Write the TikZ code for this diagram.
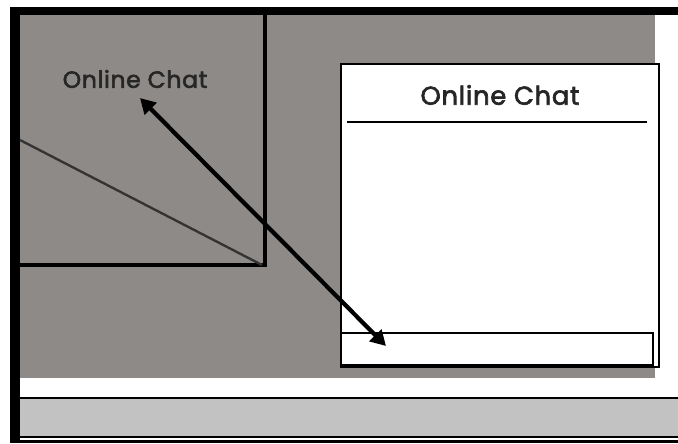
\documentclass[tikz,border=0pt]{standalone}
\usepackage{fontspec}
\setmainfont{Poppins}
\newfontfamily\chatfont{Poppins}[FakeBold=2.5,LetterSpace=3]
\usetikzlibrary{positioning,arrows.meta}
\definecolor{deskgray}{HTML}{8E8A87}
\definecolor{bargray}{HTML}{C2C2C2}

\begin{document}
\begin{tikzpicture}[x=0.03cm,y=-0.03cm]
			\useasboundingbox (0,0) rectangle (678,443);
			\fill[white] (0,0) rectangle (678,443);
% 			frame and desktop
			\fill[deskgray] (20,15) rectangle (655,378);
			\fill[bargray] (20,399) rectangle (678,437);
			\fill (10,7) rectangle (678,15);
			\fill (10,7) rectangle (20,443);
			\fill (10,440) rectangle (678,443);
			\draw[line width=2.2pt] (20,398) -- (678,398);
			\draw[line width=2.2pt] (20,437) -- (678,437);

			\draw[line width=2.8pt] (265,15) -- (265,265) -- (20,265);
			\draw[line width=2pt, black!80] (20,140) -- (262,265);
			\fill[white] (342,65) rectangle (658,366);
			\draw[line width=2.2pt] (341,64) rectangle (659,367);

			\node[inner sep=0pt, font=\chatfont\fontsize{20}{23}\selectfont, text=black!85] (leftlabel) at (135,79) {Online Chat};
			\node[inner sep=0pt, font=\chatfont\fontsize{22}{26}\selectfont, text=black!85] (chattitle) at (500,95) {Online Chat};

			\begin{scope}[line width=2.2pt]
			\draw (347,122) -- (647,122);
			\draw (341,333) rectangle (653,365);
			\end{scope}

			\coordinate (chatA) at (140,98);
			\coordinate (chatB) at (386,346);
			\draw[line width=3.6pt, {Triangle[length=13pt,width=14pt]}-{Triangle[length=13pt,width=14pt]}] (chatA) -- (chatB);
\end{tikzpicture}
\end{document}
